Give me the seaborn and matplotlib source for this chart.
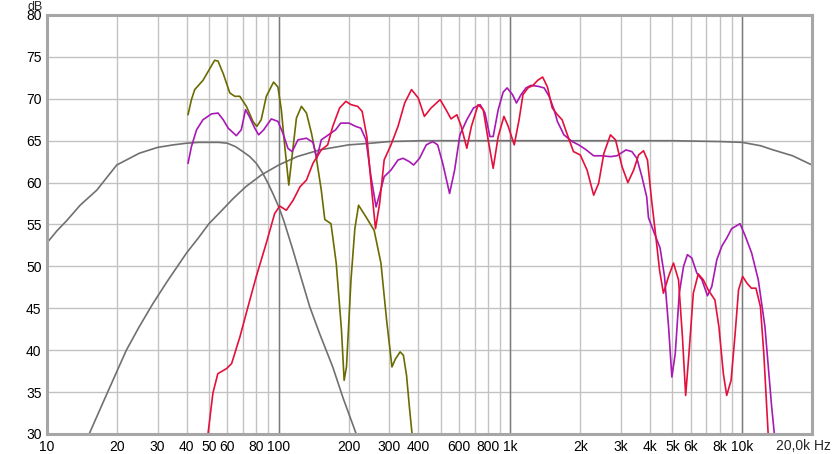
import numpy as np
import pandas as pd
import matplotlib
matplotlib.use("Agg")
import matplotlib.pyplot as plt
import seaborn as sns

# %% dados (Hz, dB)
olive_f = [40.6, 42.0, 43.4, 47.1, 50.4, 52.9, 54.7, 57.6, 61.5, 64.6, 67.9, 72.5, 77.4, 80.4,
           84, 88.4, 95, 99.2, 102.6, 106, 110.5, 115.4, 119.2, 125.3, 131.7, 138.4, 145,
           152.6, 158, 168, 172, 177, 186.5, 191.5, 196, 205, 213, 221, 238, 258, 276, 292,
           308, 318, 334, 345, 356, 366, 376, 385]
olive_db = [68.1, 69.9, 71.1, 72.2, 73.6, 74.6, 74.5, 73.0, 70.7, 70.3, 70.3, 69.1, 67.3, 66.7,
            67.5, 70.3, 72.0, 71.4, 68.7, 64.5, 59.7, 64.3, 67.7, 69.1, 68.3, 65.9, 63.1,
            59.1, 55.6, 55.1, 53.0, 50.4, 42.4, 36.4, 38.0, 48.4, 54.5, 57.3, 55.9, 54.3, 50.4, 43.6,
            38.0, 38.9, 39.8, 39.4, 37.0, 33.3, 30.0, 26.0]

purple_f = [40.6, 42, 44.2, 47.1, 51.3, 54.7, 57.6, 60.5, 65.6, 68.9, 71.9, 74.6, 78.8, 81.9,
            86.1, 92.9, 99.2, 104.2, 109.5, 114.3, 121, 131.7, 140.5, 146, 152.6, 160, 176,
            185, 201, 215, 226, 238, 250, 263, 273, 285, 305, 327, 344, 366, 382, 405, 433,
            462, 485, 510, 546, 574, 605, 648, 692, 740, 776, 815, 842, 885, 930, 967, 1020,
            1061, 1111, 1167, 1225, 1310, 1397, 1467, 1542, 1594, 1700, 1845, 1970, 2100,
            2285, 2480, 2700, 2880, 3150, 3340, 3510, 3690, 3870, 3940, 4210, 4420, 4620,
            4810, 4970, 5140, 5350, 5580, 5800, 6060, 6370, 6700, 7080, 7390, 7770, 8160,
            8580, 9000, 9780, 10280, 10980, 11730, 12530, 13390, 13760, 14100]
purple_db = [62.3, 64.3, 66.3, 67.5, 68.2, 68.3, 67.5, 66.5, 65.6, 66.3, 68.7, 67.9, 66.5, 65.7,
             66.3, 67.6, 67.3, 65.9, 64.1, 63.7, 65.1, 65.3, 64.8, 62.9, 65.1, 65.5, 66.3,
             67.1, 67.1, 66.7, 66.5, 65.1, 60.7, 57.1, 58.7, 60.7, 61.5, 62.7, 62.9, 62.5, 62.1, 62.9, 64.5,
             64.9, 64.5, 62.3, 58.7, 61.5, 65.7, 67.5, 68.9, 69.3, 68.3, 65.5, 65.5, 68.7, 70.8, 71.3, 70.5,
             69.5, 70.5, 71.3, 71.6, 71.5, 71.3, 70.3, 68.7, 67.3, 65.7, 64.9, 64.5, 64.0,
             63.2, 63.2, 63.1, 63.2, 63.9, 63.7, 62.9, 60.7, 58.3, 55.8, 53.7, 52.2, 48.8,
             42.8, 36.8, 39.6, 46.8, 50.0, 51.4, 51.0, 49.2, 48.4, 46.5, 47.6, 50.8, 52.4,
             53.4, 54.5, 55.1, 53.7, 51.6, 48.4, 42.8, 33.3, 30.0, 27.0]

red_f = [48.5, 49.5, 52, 54.6, 59.5, 62.6, 68, 73.7, 80, 88.4, 96, 101, 107.8, 115.4, 123.5,
         131.7, 140.5, 152.6, 162.6, 171, 183, 194.8, 205, 219, 229, 240, 251, 261.5, 272.5,
         285, 305, 327, 349.5, 374, 400, 425, 454, 497, 527, 554, 587, 613, 648, 678, 725,
         763, 801, 842, 885, 937, 978, 1038, 1089, 1132, 1190, 1250, 1310, 1376, 1444, 1515,
         1594, 1670, 1760, 1870, 2000, 2140, 2285, 2400, 2530, 2700, 2840, 3030, 3210, 3400,
         3570, 3750, 3900, 4060, 4240, 4400, 4570, 4810, 5050, 5310, 5520, 5700, 5890, 6150,
         6460, 6790, 7130, 7620, 7930, 8290, 8570, 8950, 9320, 9640, 10040, 10480, 10950,
         11460, 11980, 12390, 12940, 13200]
red_db = [28.0, 30.0, 34.9, 37.2, 37.8, 38.4, 41.6, 45.2, 48.8, 52.8, 56.3, 57.2, 56.7, 57.9, 59.5,
          60.3, 62.3, 63.9, 64.5, 66.7, 68.9, 69.7, 69.3, 69.1, 68.5, 65.5, 59.5, 54.5, 57.5,
          62.7, 64.5, 66.7, 69.5, 71.1, 70.1, 67.9, 68.9, 69.9, 68.7, 67.6, 68.1, 66.7, 64.1, 66.7, 69.3,
          68.7, 65.1, 61.7, 65.5, 67.9, 66.7, 64.5, 67.5, 70.5, 71.3, 71.6, 72.2, 72.6, 71.4, 68.9,
          68.1, 67.5, 65.7, 63.7, 63.3, 61.5, 58.5, 59.9, 63.5, 65.7, 65.1, 61.9, 60.0, 61.5,
          63.3, 63.8, 62.7, 58.0, 53.5, 49.5, 46.8, 48.8, 50.4, 48.4, 41.6, 34.6, 39.6, 46.8,
          49.1, 48.4, 47.2, 46.0, 42.8, 37.2, 34.6, 36.4, 42.0, 47.2, 48.8, 48.0, 47.4,
          47.4, 45.2, 39.6, 30.0, 26.0]

# curvas-alvo (cinza)
lp_f = [10, 11, 12.2, 13.9, 16.4, 20, 25, 30, 35, 40, 45, 50, 55, 60, 65, 70, 75, 80, 85, 90,
        95, 100, 105, 115, 125, 136, 150, 171, 190, 216, 240]
lp_db = [52.8, 54.2, 55.5, 57.3, 59.1, 62.1, 63.5, 64.2, 64.5, 64.7, 64.8, 64.8, 64.8, 64.7, 64.3,
         63.7, 63.1, 62.3, 61.2, 59.9, 58.5, 57.1, 55.5, 52.0, 48.6, 45.2, 42.0, 38.0, 34.2,
         30.0, 26.5]
hp_f = [14, 15.2, 18, 22, 25, 28.7, 33, 40, 45, 50, 56, 63.6, 72, 84, 100, 120, 150, 200, 250,
        300, 412, 600, 1000, 5000, 8000, 10000, 12000, 13600, 16500, 20000]
hp_db = [27.5, 30.0, 34.6, 40.0, 42.8, 45.6, 48.2, 51.6, 53.4, 55.1, 56.5, 58.1, 59.5, 60.9, 62.1,
         63.1, 63.9, 64.5, 64.7, 64.9, 65.0, 65.0, 65.0, 65.0, 64.9, 64.8, 64.4, 63.9, 63.2, 62.1]

x_labels = {10: "10", 20: "20", 30: "30", 40: "40", 50: "50", 60: "60", 80: "80", 100: "100",
            200: "200", 300: "300", 400: "400", 600: "600", 800: "800", 1000: "1k",
            2000: "2k", 3000: "3k", 4000: "4k", 5000: "5k", 6000: "6k", 8000: "8k",
            10000: "10k"}
y_ticks = [30, 35, 40, 45, 50, 55, 60, 65, 70, 75, 80]

# %%
series = {
    "lp": (lp_f, lp_db),
    "hp": (hp_f, hp_db),
    "olive": (olive_f, olive_db),
    "purple": (purple_f, purple_db),
    "red": (red_f, red_db),
}
df = pd.concat(
    [pd.DataFrame({"freq": f, "db": d, "curva": k}) for k, (f, d) in series.items()],
    ignore_index=True,
)
palette = {"lp": "#707070", "hp": "#707070", "olive": "#6b6b00",
           "purple": "#a818b4", "red": "#e4103c"}

sns.set_style("white")
plt.rcParams["font.family"] = ["Liberation Sans", "DejaVu Sans"]

fig = plt.figure(figsize=(8.35, 4.54), dpi=100)
ax = fig.add_axes([47 / 835, 20 / 454, 765 / 835, 419 / 454])

# grade
grid_x = [m * 10 ** e for e in range(1, 5) for m in range(1, 10) if m * 10 ** e <= 20000]
for gx in grid_x:
    ax.axvline(gx, color="#c2c2c2", lw=1, zorder=0)
for gx in [100, 1000, 10000]:
    ax.axvline(gx, color="#7a7a7a", lw=1, zorder=0.5)
for gy in y_ticks:
    ax.axhline(gy, color="#c2c2c2", lw=1, zorder=0)

sns.lineplot(data=df, x="freq", y="db", hue="curva", palette=palette, estimator=None,
             sort=False, units="curva", lw=1.2, legend=False, ax=ax, zorder=3)

ax.set_xscale("log")
ax.set_xlim(10, 20000)
ax.set_ylim(30, 80)
ax.set_xticks(grid_x)
ax.set_xticklabels([x_labels.get(v, "") for v in grid_x])
ax.xaxis.set_minor_locator(matplotlib.ticker.NullLocator())
ax.set_yticks(y_ticks)
ax.set_yticklabels([str(v) for v in y_ticks])
ax.tick_params(axis="both", length=0, labelsize=10, colors="black")
ax.tick_params(axis="x", pad=4)
ax.tick_params(axis="y", pad=4)
ax.set(xlabel="", ylabel="")
ax.grid(False)

for s in ax.spines.values():
    s.set_color("#a6a6a6")
    s.set_linewidth(2.2)
    s.set_zorder(5)

# rótulo do fim do eixo e unidade
fig.text(831 / 835, 1 - 446 / 454, "20,0k Hz", ha="right", va="center", fontsize=10)
fig.text(35 / 835, 1 - 0.5 / 454, "dB", ha="center", va="top", fontsize=9)

fig.savefig("out.png", dpi=100)
